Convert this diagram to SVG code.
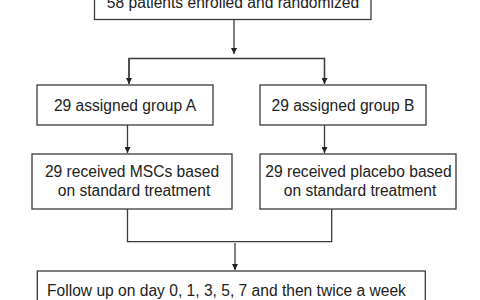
<svg xmlns="http://www.w3.org/2000/svg" width="480" height="300" viewBox="0 0 480 300">
<defs>
<style>
.box{fill:#fff;stroke:#3a3a3a;stroke-width:1.3}
.t{font-family:"Liberation Sans",Arial,sans-serif;font-size:15.6px;fill:#222}
.c{stroke:#3a3a3a;stroke-width:1.3;fill:none}
</style>
<marker id="ah" viewBox="0 0 10 10" refX="10" refY="5" markerWidth="6" markerHeight="6" markerUnits="userSpaceOnUse" orient="auto">
<path d="M0,0 L10,5 L0,10 z" fill="#222"/>
</marker>
</defs>
<rect width="480" height="300" fill="#fff"/>
<g id="connectors">
<path class="c" d="M234,20 V54" marker-end="url(#ah)"/>
<path class="c" d="M129,83.5 V58.5 H324.5 V83.5" />
<path class="c" d="M129,58.5 V84" marker-end="url(#ah)"/>
<path class="c" d="M324.5,58.5 V84" marker-end="url(#ah)"/>
<path class="c" d="M127.5,125 V153" marker-end="url(#ah)"/>
<path class="c" d="M324.5,125 V153" marker-end="url(#ah)"/>
<path class="c" d="M127.5,209 V241.7 H331.7 V209"/>
<path class="c" d="M235,243 V270" marker-end="url(#ah)"/>
</g>
<g id="enrolled">
<rect class="box" x="94.5" y="-20" width="276.5" height="39.5"/>
<text class="t" x="233" y="8" text-anchor="middle">58 patients enrolled and randomized</text>
</g>
<g id="groupA">
<rect class="box" x="37" y="85" width="176" height="40"/>
<text class="t" x="125" y="111" text-anchor="middle">29 assigned group A</text>
</g>
<g id="groupB">
<rect class="box" x="260" y="85" width="166" height="40"/>
<text class="t" x="343" y="111" text-anchor="middle">29 assigned group B</text>
</g>
<g id="msc">
<rect class="box" x="32" y="154" width="200" height="55"/>
<text class="t" x="132" y="177" text-anchor="middle">29 received MSCs based</text>
<text class="t" x="134" y="196" text-anchor="middle">on standard treatment</text>
</g>
<g id="placebo">
<rect class="box" x="260" y="154" width="196" height="55"/>
<text class="t" x="358.5" y="177" text-anchor="middle">29 received placebo based</text>
<text class="t" x="360" y="196" text-anchor="middle">on standard treatment</text>
</g>
<g id="followup">
<rect class="box" x="37.3" y="271" width="388" height="50"/>
<text class="t" x="47" y="295.7">Follow up on day 0, 1, 3, 5, 7 and then twice a week</text>
</g>
</svg>
